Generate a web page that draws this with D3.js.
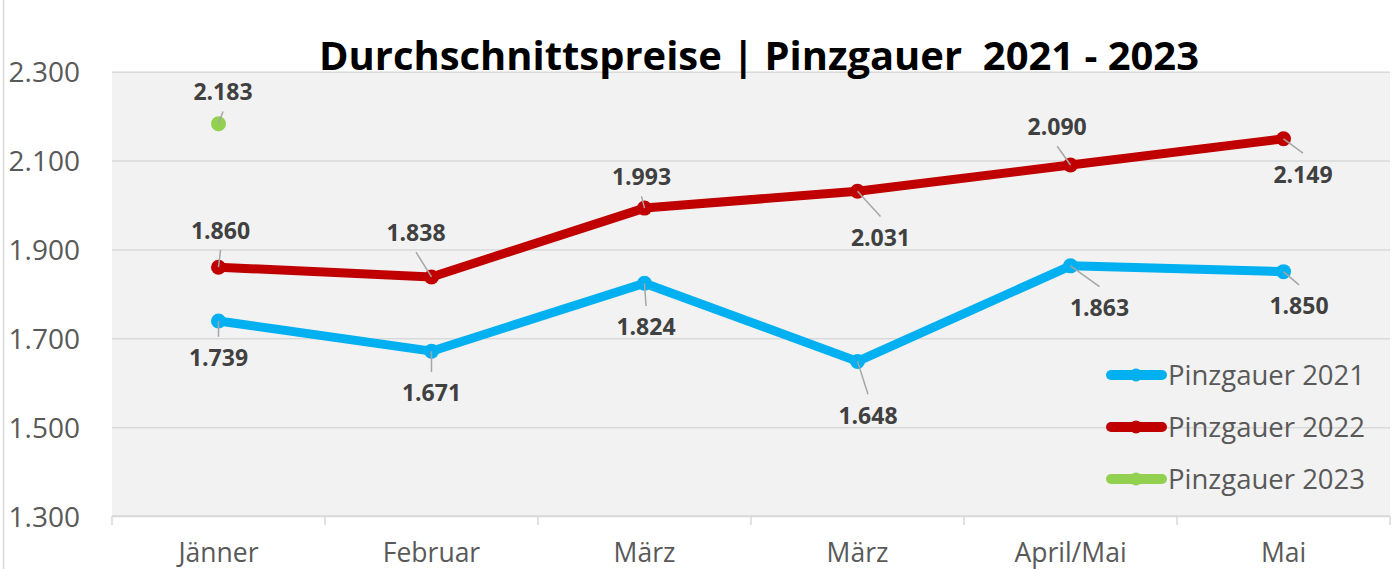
<!DOCTYPE html>
<html><head><meta charset="utf-8">
<script src="https://cdn.jsdelivr.net/npm/d3@7"></script>
<style>
body{margin:0;background:#fff;}
svg{display:block;}
text{font-family:"Open Sans",sans-serif;}
</style></head>
<body>
<svg id="chart" width="1392" height="569"></svg>
<script>
// ---- data ----
const categories = ["Jänner","Februar","März","März","April/Mai","Mai"];
const seriesNames = ["Pinzgauer 2021","Pinzgauer 2022","Pinzgauer 2023"];
const values2021 = [1739,1671,1824,1648,1863,1850];
const values2022 = [1860,1838,1993,2031,2090,2149];
const values2023 = [2183,null,null,null,null,null];
const yTicks = [1300,1500,1700,1900,2100,2300];
const titleText = "Durchschnittspreise | Pinzgauer  2021 - 2023";

// ---- layout / style (separate from data) ----
const colors = ["#00b0f0","#c00000","#92d050"];
// label offsets of data labels relative to their point (label centre)
const labelDx = [[0,0,1.5,10.5,29,15.5],[2,-15.5,-3,23,-13.3,19.5],[4.5,0,0,0,0,0]];
const labelDy = [[37,42,44,54,42,34.5],[-36.5,-44,-31,46.5,-38,35.5],[-31.5,0,0,0,0,0]];

const allSeries = [values2021, values2022, values2023];
const svg = d3.select("#chart");
const plot = {left:112, right:1390, top:71.7, bottom:516};

const loc = d3.formatLocale({decimal:",", thousands:".", grouping:[3], currency:["","€"]});
const fmt = loc.format(",");

const x = d3.scaleBand().domain(d3.range(categories.length)).range([plot.left, plot.right]).paddingInner(0).paddingOuter(0);
const y = d3.scaleLinear().domain([1300,2300]).range([plot.bottom, plot.top]);
const cx = i => x(i) + x.bandwidth()/2;

// chart frame left border
svg.append("line").attr("x1",3.5).attr("x2",3.5).attr("y1",0).attr("y2",569)
  .attr("stroke","#d9d9d9").attr("stroke-width",1.5);

// plot background
svg.append("rect").attr("x",plot.left).attr("y",plot.top)
  .attr("width",plot.right-plot.left).attr("height",plot.bottom-plot.top).attr("fill","#f2f2f2");

// y axis (gridlines + labels)
const yAxis = d3.axisLeft(y).tickValues(yTicks).tickFormat(fmt).tickSize(-(plot.right-plot.left)).tickPadding(32);
const gy = svg.append("g").attr("transform",`translate(${plot.left},0)`).call(yAxis);
gy.select(".domain").remove();
gy.selectAll(".tick line").attr("stroke","#d9d9d9").attr("stroke-width",1.5);
gy.selectAll(".tick text").attr("fill","#595959").style("font-size","28px").attr("dy","0.36em");

// x axis
const xAxis = d3.axisBottom(x).tickFormat(i => categories[i]).tickSize(0).tickPadding(27);
const gx = svg.append("g").attr("transform",`translate(0,${plot.bottom})`).call(xAxis);
gx.select(".domain").remove();
gx.selectAll(".tick text").attr("fill","#595959").style("font-size","26.5px");
// boundary tick marks
const bounds = d3.range(categories.length).map(i => x(i)).concat([plot.right]);
svg.append("g").selectAll("line").data(bounds).join("line")
  .attr("x1",d=>d).attr("x2",d=>d).attr("y1",plot.bottom).attr("y2",plot.bottom+9)
  .attr("stroke","#d9d9d9").attr("stroke-width",1.5);
svg.append("line").attr("x1",plot.left).attr("x2",plot.right).attr("y1",plot.bottom).attr("y2",plot.bottom)
  .attr("stroke","#d9d9d9").attr("stroke-width",1.5);

// lines and markers
const line = d3.line().defined(d => d != null).x((d,i)=>cx(i)).y(d=>y(d));
allSeries.forEach((vals, s) => {
  const g = svg.append("g");
  g.append("path").datum(vals).attr("d",line).attr("fill","none")
    .attr("stroke",colors[s]).attr("stroke-width",9).attr("stroke-linejoin","round").attr("stroke-linecap","round");
  g.selectAll("circle").data(vals.map((v,i)=>({v,i})).filter(d=>d.v!=null)).join("circle")
    .attr("cx",d=>cx(d.i)).attr("cy",d=>y(d.v)).attr("r",7.5).attr("fill",colors[s]);
});

// leader lines + data labels
const labelSize = 23, capHalf = labelSize*0.714/2;
allSeries.forEach((vals, s) => {
  vals.forEach((v,i) => {
    if (v == null) return;
    const px = cx(i), py = y(v);
    const lx = px + labelDx[s][i], ly = py + labelDy[s][i];
    const below = labelDy[s][i] > 0;
    const ey = below ? ly - capHalf - 13 : ly + capHalf + 11;
    svg.append("line").attr("x1",px).attr("y1",py).attr("x2",lx).attr("y2",ey)
      .attr("stroke","#a6a6a6").attr("stroke-width",1.5);
    svg.append("text").attr("x",lx).attr("y",ly+capHalf).attr("text-anchor","middle")
      .attr("fill","#404040").style("font-size",labelSize+"px").style("font-weight","700")
      .text(fmt(v));
  });
});

// legend
const legY = [375,427,479];
seriesNames.forEach((name, s) => {
  const g = svg.append("g");
  g.append("line").attr("x1",1111).attr("x2",1162).attr("y1",legY[s]).attr("y2",legY[s])
    .attr("stroke",colors[s]).attr("stroke-width",10).attr("stroke-linecap","round");
  g.append("circle").attr("cx",1136).attr("cy",legY[s]).attr("r",6.5).attr("fill",colors[s]);
  g.append("text").attr("x",1168).attr("y",legY[s]+9.5).attr("fill","#595959")
    .style("font-size","27.5px").text(name);
});

// title
svg.append("text").attr("x",759).attr("y",70).attr("text-anchor","middle")
  .attr("textLength",880).attr("lengthAdjust","spacingAndGlyphs")
  .style("white-space","pre").style("font-size","40px").style("font-weight","700").attr("fill","#000")
  .text(titleText);
</script>
</body></html>
